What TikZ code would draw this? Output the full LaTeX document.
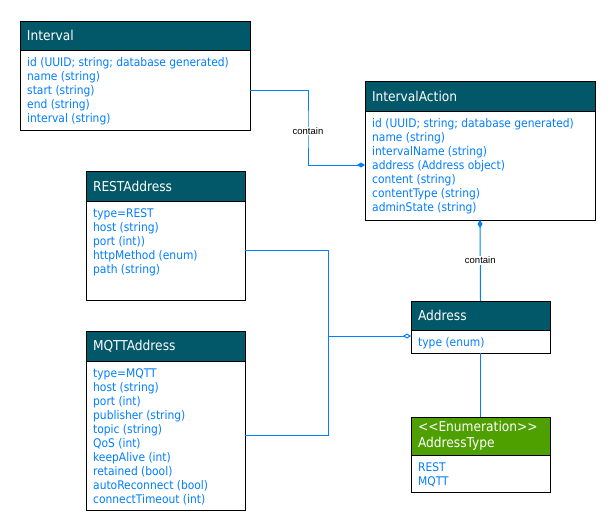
\documentclass[tikz,border=0pt]{standalone}
\usepackage{fontspec}
\setmainfont{DejaVu Sans Condensed}
\newfontfamily\lblfont{Liberation Sans}
\usetikzlibrary{arrows.meta}
\definecolor{headteal}{RGB}{2,88,104}
\definecolor{headgreen}{RGB}{77,160,0}
\definecolor{attrblue}{RGB}{0,127,255}
\tikzset{
  x=1pt, y=-1pt,
  box/.style={draw=black, line width=1pt, fill=white, anchor=north west, inner sep=0pt, outer sep=0pt},
  head/.style={draw=black, line width=1pt, anchor=north west, inner xsep=7pt, inner ysep=0pt, outer sep=0pt,
    align=left, text=white, font=\fontsize{13.6}{15.8}\selectfont},
  attrs/.style={anchor=north west, inner sep=0pt, align=left, text=attrblue, font=\fontsize{11.9}{14}\selectfont},
  conn/.style={draw=attrblue, line width=1pt},
  lbl/.style={fill=white, inner sep=1pt, text=black, font=\lblfont\fontsize{9.5}{11}\selectfont},
  dtip/.tip={Diamond[length=8pt,width=5pt]},
  odtip/.tip={Diamond[open,length=8pt,width=5pt]},
}
\newcommand\umlclass[9]{%
  \node[box, minimum width=#4pt, minimum height=#5pt] (#1) at (#2,#3) {};
  \node[head, fill=#7, minimum width=#4pt, minimum height=#6pt, text width={#4pt-14pt}] (#1-h) at (#2,#3) {#8};
  \node[attrs] (#1-b) at ([xshift=7pt, yshift=-6.7pt]#1-h.south west) {\rule{0pt}{10pt}#9};
}
\begin{document}
\begin{tikzpicture}
\useasboundingbox (0,0) rectangle (616,531);
\umlclass{interval}{20}{21}{230}{109}{29}{headteal}{Interval}{id (UUID; string; database generated)\\name (string)\\start (string)\\end (string)\\interval (string)}
\umlclass{ia}{365}{81}{230}{139}{30}{headteal}{IntervalAction}{id (UUID; string; database generated)\\name (string)\\intervalName (string)\\address (Address object)\\content (string)\\contentType (string)\\adminState (string)}
\umlclass{rest}{86}{171}{159}{129}{30}{headteal}{RESTAddress}{type=REST\\host (string)\\port (int))\\httpMethod (enum)\\path (string)}
\umlclass{mqtt}{86}{331}{159}{179}{30}{headteal}{MQTTAddress}{type=MQTT\\host (string)\\port (int)\\publisher (string)\\topic (string)\\QoS (int)\\keepAlive (int)\\retained (bool)\\autoReconnect (bool)\\connectTimeout (int)}
\umlclass{addr}{411}{301}{139}{52}{29}{headteal}{Address}{type (enum)}
\umlclass{atype}{411}{417}{139}{75}{38}{headgreen}{<{}<Enumeration>{}>\\AddressType}{REST\\MQTT}

\coordinate (j1) at (308,131);
\coordinate (j2) at (328,336);
\draw[conn, -dtip] ([yshift=-14.5pt]interval.east) -| (j1) |- ([yshift=-14.5pt]ia.west);
\node[lbl] (lbl1) at (j1) {contain};
\draw[conn, dtip-] (ia.south) -- node[lbl] (lbl2) {contain} (addr.north);
\draw[conn] ([yshift=-14.5pt]rest.east) -| (j2);
\draw[conn] ([yshift=-14.5pt]mqtt.east) -| (j2);
\draw[conn, -odtip] (j2) -- (addr.west |- j2);
\draw[conn] (addr.south) -- (atype.north);
\end{tikzpicture}
\end{document}
